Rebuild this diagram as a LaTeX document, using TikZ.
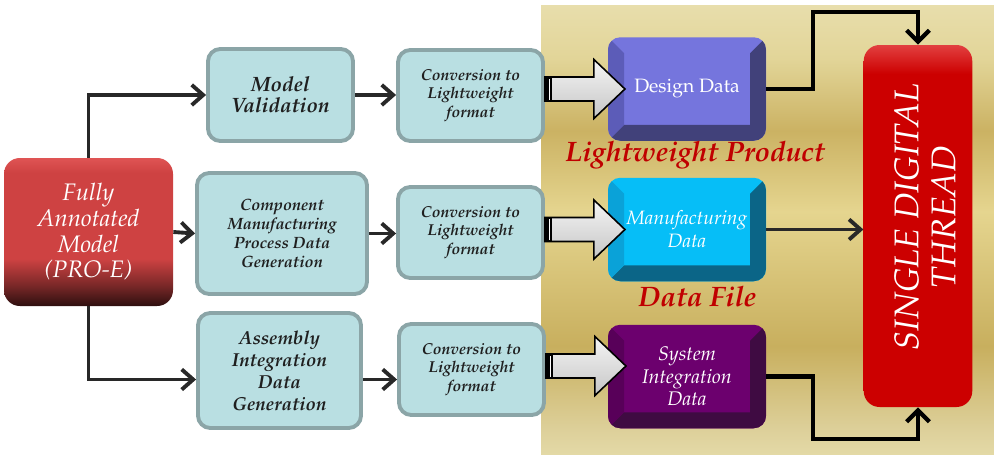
\documentclass[tikz,border=0pt]{standalone}
\usepackage[T1]{fontenc}
\usepackage{mathpazo}
\usepackage{graphicx}
\usetikzlibrary{positioning}
\usetikzlibrary{arrows.meta}
\usetikzlibrary{calc}
\definecolor{boxfill}{HTML}{B9DFE2}
\definecolor{boxline}{HTML}{8BA5A7}
\definecolor{arrgray}{HTML}{282828}
\definecolor{desface}{HTML}{7575DD}
\definecolor{desdark}{HTML}{41417A}
\definecolor{desside}{HTML}{5C5CB8}
\definecolor{manface}{HTML}{06BEF7}
\definecolor{mandark}{HTML}{0B6587}
\definecolor{manside}{HTML}{0AA2D8}
\definecolor{sysface}{HTML}{6C006E}
\definecolor{sysdark}{HTML}{3F0B42}
\definecolor{sysside}{HTML}{580059}
\definecolor{thrface}{HTML}{CC0000}
\definecolor{thrhi}{HTML}{E24040}
\definecolor{lblred}{HTML}{C00000}
\definecolor{mdark}{HTML}{2E0F0F}
\definecolor{mmid}{HTML}{7A2828}
\definecolor{mred}{HTML}{CE4242}
\definecolor{mtop}{HTML}{DF5454}
\definecolor{ga}{HTML}{E3D9A6}
\definecolor{gb}{HTML}{DDD09A}
\definecolor{gc}{HTML}{C8AF5E}
\definecolor{gd}{HTML}{E5D58F}
\definecolor{ge}{HTML}{CBB263}
\definecolor{gf}{HTML}{E2D598}
\definecolor{gg}{HTML}{E8DEAC}
\pgfdeclareverticalshading{goldbg}{100bp}{color(0bp)=(ga); color(25bp)=(ga); color(27.7bp)=(gb); color(37bp)=(gc); color(52bp)=(gd); color(61bp)=(ge); color(69bp)=(gf); color(75bp)=(gg); color(100bp)=(gg)}
\pgfdeclareverticalshading{redmodel}{100bp}{color(0bp)=(mdark); color(25bp)=(mdark); color(32bp)=(mmid); color(41bp)=(mred); color(70bp)=(mred); color(75bp)=(mtop); color(100bp)=(mtop)}
\pgfdeclareverticalshading{redthread}{100bp}{color(0bp)=(thrface); color(71bp)=(thrface); color(75bp)=(thrhi); color(100bp)=(thrhi)}
\tikzset{proc/.style={draw=boxline,line width=2.2pt,fill=boxfill,rounded corners=7pt,align=center,text=black!88,minimum width=2.9cm,minimum height=1.82cm}}
\tikzset{mdl/.style={rounded corners=9pt,shading=redmodel,minimum width=3.38cm,minimum height=2.96cm,align=center,text=white,font=\fontsize{13.6}{14.6}\selectfont\itshape}}
\tikzset{data/.style n args={3}{rounded corners=7pt,fill=#1,minimum width=3.16cm,minimum height=2.07cm,align=center,text=white,
  path picture={
    \fill[#2,sharp corners] (path picture bounding box.south west) -- (path picture bounding box.south east) -- (path picture bounding box.north east) -- ([shift={(-0.32,-0.32)}]path picture bounding box.north east) -- ([shift={(-0.32,0.32)}]path picture bounding box.south east) -- ([shift={(0.32,0.32)}]path picture bounding box.south west) -- cycle;
    \fill[#3,sharp corners] (path picture bounding box.south west) -- ([shift={(0.32,0.32)}]path picture bounding box.south west) -- ([shift={(0.32,-0.32)}]path picture bounding box.north west) -- (path picture bounding box.north west) -- cycle;
  }}}
\tikzset{thr/.style={rounded corners=9pt,shading=redthread,minimum width=2.12cm,minimum height=7.24cm,align=center,text=white,font=\fontsize{19.5}{21}\selectfont\itshape}}
\tikzset{lbl/.style={text=lblred,font=\fontsize{16}{18}\selectfont\bfseries\itshape}}
\tikzset{garr/.style={draw=arrgray,line width=2.2pt,-{Straight Barb[length=6.5pt,width=11.5pt]}}}
\tikzset{barr/.style={draw=black,line width=2.4pt,-{Straight Barb[length=6.5pt,width=13pt]}}}
\tikzset{fat/.pic={
  \draw[black,line width=0.9pt,top color=gray!8,bottom color=gray!45] (0,0.24) -- (0.98,0.24) -- (0.98,0.59) -- (1.6,0) -- (0.98,-0.59) -- (0.98,-0.24) -- (0,-0.24) -- cycle;
  \fill[black] (0,-0.24) rectangle (0.15,0.24);
  \draw[white,line width=0.7pt] (0.09,-0.21) -- (0.09,0.21);
}}

\begin{document}
\begin{tikzpicture}
\useasboundingbox (0,0) rectangle (19.88,9.08);
\shade[shading=goldbg] (10.82,0) rectangle (19.88,8.98);

\node[mdl] (model) at (1.77,4.44) {Fully\\Annotated\\Model\\(PRO-E)};

\node[proc,font=\fontsize{11.8}{12}\selectfont\bfseries\itshape,minimum height=1.84cm] (valid) at (5.61,7.18) {Model\\Validation};
\node[proc,font=\fontsize{9.3}{10.8}\selectfont\bfseries\itshape,minimum width=3.4cm,minimum height=2.42cm] (comp) at (5.64,4.41) {Component\\Manufacturing\\Process Data\\Generation};
\node[proc,font=\fontsize{10.7}{12.5}\selectfont\bfseries\itshape,minimum width=3.26cm,minimum height=2.3cm] (assem) at (5.59,1.67) {Assembly\\Integration\\Data\\Generation};

\node[proc,font=\fontsize{9}{10.5}\selectfont\bfseries\itshape] (conv1) at (9.41,7.17) {Conversion to\\Lightweight\\format};
\node[proc,font=\fontsize{9}{10.5}\selectfont\bfseries\itshape] (conv2) at (9.41,4.43) {Conversion to\\Lightweight\\format};
\node[proc,font=\fontsize{9}{10.5}\selectfont\bfseries\itshape] (conv3) at (9.43,1.69) {Conversion to\\Lightweight\\format};

\node[data={desface}{desdark}{desside},font=\fontsize{11}{13}\selectfont] (design) at (13.74,7.30) {\raisebox{0.14cm}{Design Data}};
\node[data={manface}{mandark}{manside},font=\fontsize{11}{13}\selectfont\itshape] (manu) at (13.74,4.49) {Manufacturing\\Data};
\node[data={sysface}{sysdark}{sysside},font=\fontsize{11.2}{12.8}\selectfont\itshape] (sysint) at (13.74,1.55) {System\\Integration\\Data};

\node[lbl] (lwp) at (13.9,5.98) {Lightweight Product};
\node[lbl] (dfile) at (13.95,3.14) {Data File};

\node[thr] (thread) at (18.36,4.56) {\hspace*{0.46cm}\raisebox{0.36cm}{\rotatebox{90}{\begin{tabular}{@{}c@{}}SINGLE DIGITAL\\THREAD\end{tabular}}}};

\coordinate (rtop) at (16.26,8.84);
\coordinate (rbot) at (16.26,0.30);

\draw[garr] (model.north) |- (valid.west);
\draw[garr] (model.east) -- (comp.west);
\draw[garr] (model.south) |- ([yshift=-0.18cm]assem.west);
\draw[garr] (valid.east) -- (valid.east -| conv1.west);
\draw[garr] (comp.east) -- (comp.east -| conv2.west);
\draw[garr] ([yshift=-0.18cm]assem.east) -- ([yshift=-0.18cm]assem.east -| conv3.west);

\pic at (conv1.east |- design.west) {fat};
\pic at (conv2.east |- manu.west) {fat};
\pic at ([yshift=0.07cm]conv3.east) {fat};

\draw[barr] (design.east) -| (rtop) -| (thread.north);
\draw[garr] (manu.east) -- (manu.east -| thread.west);
\draw[barr] (sysint.east) -| (rbot) -| (thread.south);
\end{tikzpicture}
\end{document}
